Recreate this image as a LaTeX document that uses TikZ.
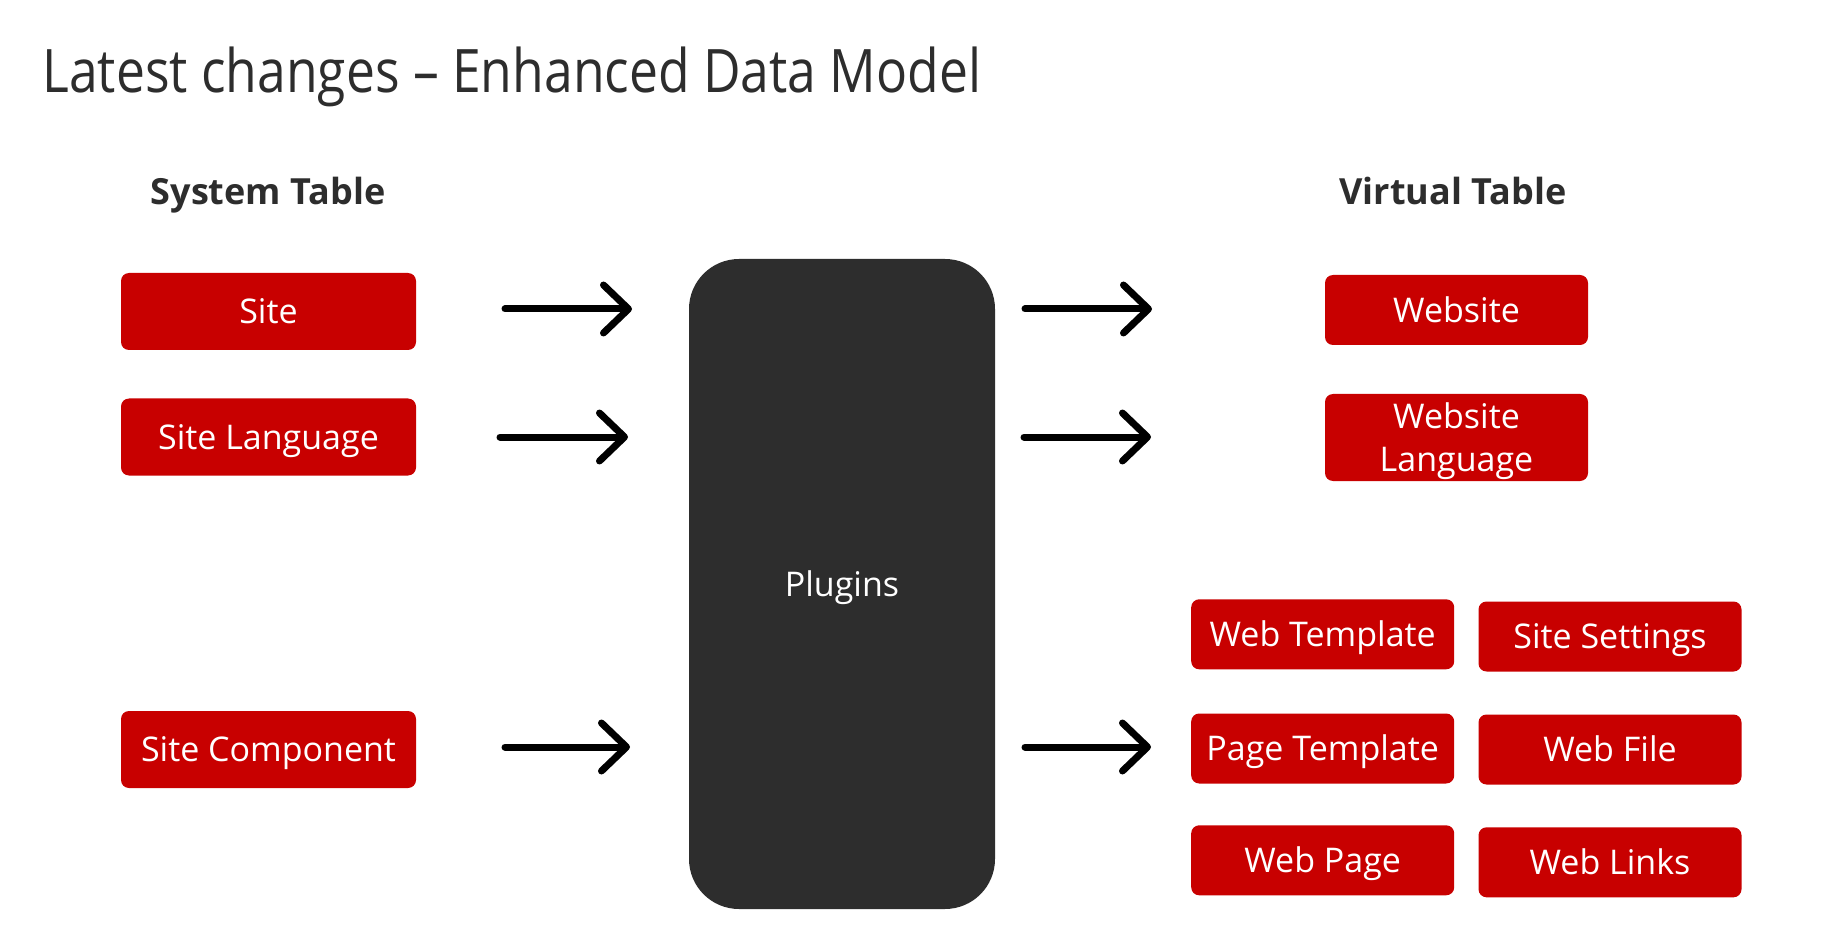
\documentclass[tikz,border=0pt]{standalone}
\usepackage{fontspec}
\setmainfont{Open Sans}
\newfontfamily\titlefont{Open Sans}[FakeStretch=0.86]
\usetikzlibrary{arrows.meta}
\definecolor{boxred}{RGB}{200,0,0}
\definecolor{plugdark}{RGB}{45,45,45}
\definecolor{txtdark}{RGB}{45,45,45}
\tikzset{
  boxtext/.style={text=white, align=center, font=\fontsize{17pt}{21.5pt}\selectfont, inner sep=0pt},
  redbox/.style={fill=boxred, rounded corners=4pt, boxtext, text height=12.1pt, text depth=0pt},
  leftbox/.style={redbox, minimum width=147.5pt, minimum height=38.5pt},
  rightbox/.style={redbox, minimum width=131.5pt, minimum height=35pt},
  header/.style={text=txtdark, font=\fontsize{18pt}{22pt}\selectfont\bfseries, anchor=base, inner sep=0pt},
  flowarrow/.style={line width=3.5pt, line cap=round, black,
    -{Straight Barb[length=12.5pt, width=24pt, line cap=round, line join=round]}},
}
\begin{document}
\begin{tikzpicture}[x=0.5pt, y=-0.5pt]
\useasboundingbox (0,0) rectangle (1827,925);
\fill[white] (0,0) rectangle (1827,925);
% title
\node[anchor=base west, inner sep=0pt, text=txtdark, font=\titlefont\fontsize{30pt}{36pt}\selectfont] (title) at (42,93) {Latest changes – Enhanced Data Model};
% headers
\node[header] (hsys) at (268,205) {System Table};
\node[header] (hvirt) at (1453,205) {Virtual Table};
% left boxes
\node[leftbox] (site) at (268.5,311.5) {Site};
\node[leftbox] (sitelang) at (268.5,437) {Site Language};
\node[leftbox] (sitecomp) at (268.5,749.5) {Site Component};
% plugins
\node[fill=plugdark, rounded corners=25pt, minimum width=153pt, minimum height=325pt, text=white,
  font=\fontsize{17pt}{21pt}\selectfont, text height=12.1pt, text depth=0pt] (plugins) at (842,584) {Plugins};
% right boxes
\node[rightbox] (website) at (1456.5,310) {Website};
\node[rightbox, minimum height=43.5pt] (weblang) at (1456.5,437.5) {};
\node[boxtext] (weblangtxt) at (1456.5,441) {Website\\Language};
\node[rightbox] (webtpl) at (1322.7,634.3) {Web Template};
\node[rightbox] (sitesett) at (1610,636.5) {Site Settings};
\node[rightbox] (pagetpl) at (1322.7,748.5) {Page Template};
\node[rightbox] (webfile) at (1610,749.5) {Web File};
\node[rightbox] (webpage) at (1322.7,860.3) {Web Page};
\node[rightbox] (weblinks) at (1610,862.3) {Web Links};
% arrow end points
\coordinate (l1s) at (505,309); \coordinate (l1e) at (632,309);
\coordinate (l2s) at (500,437); \coordinate (l2e) at (628,437);
\coordinate (l3s) at (505,747); \coordinate (l3e) at (630,747);
\coordinate (r1s) at (1025,309); \coordinate (r1e) at (1152,309);
\coordinate (r2s) at (1024,437); \coordinate (r2e) at (1151,437);
\coordinate (r3s) at (1025,747); \coordinate (r3e) at (1151,747);
\draw[flowarrow] (l1s) -- (l1e);
\draw[flowarrow] (l2s) -- (l2e);
\draw[flowarrow] (l3s) -- (l3e);
\draw[flowarrow] (r1s) -- (r1e);
\draw[flowarrow] (r2s) -- (r2e);
\draw[flowarrow] (r3s) -- (r3e);
\end{tikzpicture}
\end{document}
